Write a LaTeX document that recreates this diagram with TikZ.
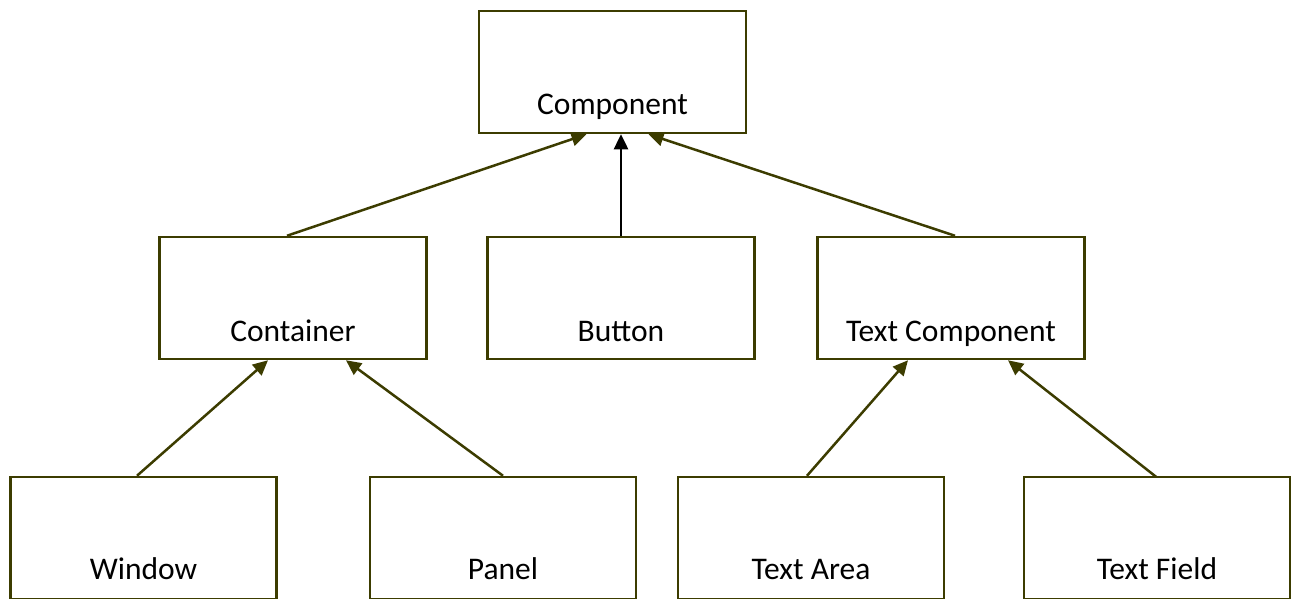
\documentclass[tikz,border=0pt]{standalone}
\usepackage{fontspec}
\setmainfont{Carlito}
\usetikzlibrary{arrows.meta}
\definecolor{olive}{RGB}{60,60,0}
\begin{document}
\begin{tikzpicture}[x=1pt,y=-1pt,
  box/.style={draw=olive, line width=2.5pt, rectangle, minimum width=267pt, minimum height=122pt, inner sep=0pt, fill=white},
  lbl/.style={anchor=base, inner sep=0pt, font=\fontsize{31.5}{36}\selectfont, text=black},
  link/.style={draw=olive, line width=2.5pt, -{Triangle[length=15pt,width=14pt]}},
  blink/.style={draw=black, line width=2.5pt, -{Triangle[length=15pt,width=14pt]}}]
\useasboundingbox (0,0) rectangle (1293,598);
\begin{scope}
\clip (0,0) rectangle (1293,598);
\node[box] (comp) at (612.5,72) {};
\node[box] (cont) at (293,298) {};
\node[box] (butt) at (621,298) {};
\node[box] (tcomp) at (951,298) {};
\node[box, minimum width=266pt] (win) at (143.5,538) {};
\node[box, minimum width=266pt] (pan) at (503,538) {};
\node[box, minimum width=266pt] (tarea) at (811,538) {};
\node[box, minimum width=266pt] (tfield) at (1157,538) {};
\end{scope}
\node[lbl] (compT) at ([yshift=20pt]comp.south) {Component};
\node[lbl] (contT) at ([yshift=19pt]cont.south) {Container};
\node[lbl] (buttT) at ([yshift=19pt]butt.south) {Button};
\node[lbl] (tcompT) at ([yshift=19pt]tcomp.south) {Text Component};
\node[lbl] (winT) at ([yshift=21pt]win.south) {Window};
\node[lbl] (panT) at ([yshift=21pt]pan.south) {Panel};
\node[lbl] (tareaT) at ([yshift=21pt]tarea.south) {Text Area};
\node[lbl] (tfieldT) at ([yshift=21pt]tfield.south) {Text Field};
\draw[link] ([xshift=-6pt]cont.north) -- ([xshift=-26pt]comp.south);
\draw[blink] (butt.north) -- ([xshift=8.5pt]comp.south);
\draw[link] ([xshift=4pt]tcomp.north) -- ([xshift=36pt]comp.south);
\draw[link] ([xshift=-6.5pt]win.north) -- ([xshift=-25pt]cont.south);
\draw[link] (pan.north) -- ([xshift=53pt]cont.south);
\draw[link] ([xshift=-4pt]tarea.north) -- ([xshift=-43pt]tcomp.south);
\draw[link] ([xshift=-1pt,yshift=-1pt]tfield.north) -- ([xshift=57pt]tcomp.south);
\end{tikzpicture}
\end{document}
